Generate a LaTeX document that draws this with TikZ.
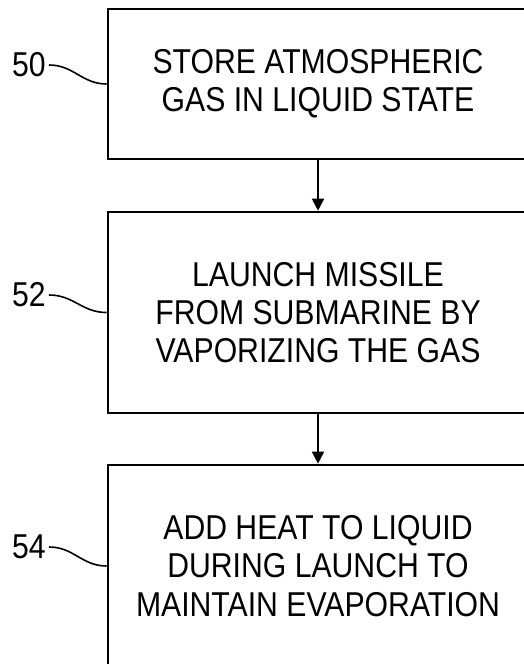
\documentclass[tikz,border=0pt]{standalone}
\usepackage{fontspec}
\setmainfont{Liberation Sans}[FakeStretch=0.875]
\usetikzlibrary{arrows.meta}

\tikzset{
  stepbox/.style={draw, line width=2.6pt, minimum width=420pt, align=center,
    inner sep=0pt, font=\fontsize{34.5}{38.3}\selectfont},
  refnum/.style={inner sep=0pt, font=\fontsize{34.5}{38.3}\selectfont},
  flow/.style={-{Triangle[width=12pt,length=12pt]}, line width=1.8pt},
  lead/.style={line width=1.6pt}
}

\begin{document}
\begin{tikzpicture}[x=1pt, y=-1pt]
            \useasboundingbox (0,0) rectangle (524,664);
            \node [stepbox, minimum height=150pt] (s1) at (318,84) {STORE ATMOSPHERIC\\GAS IN LIQUID STATE};
            \node [stepbox, minimum height=201pt] (s2) at (318,312.5) {LAUNCH MISSILE\\FROM SUBMARINE BY\\VAPORIZING THE GAS};
            \node [stepbox, minimum height=202pt] (s3) at (318,566) {ADD HEAT TO LIQUID\\DURING LAUNCH TO\\MAINTAIN EVAPORATION};
            \node [refnum] (r50) at (29,65) {50};
            \node [refnum] (r52) at (29,295) {52};
            \node [refnum] (r54) at (29,547) {54};
            \draw[flow] (s1.south) -- (s2.north);
            \draw[flow] (s2.south) -- (s3.north);
            \draw[lead] ([xshift=3pt]r50.east) .. controls +(25,0) and +(-25,0) .. (s1.west);
            \draw[lead] ([xshift=3pt]r52.east) .. controls +(25,0) and +(-25,0) .. (s2.west);
            \draw[lead] ([xshift=3pt]r54.east) .. controls +(25,0) and +(-25,0) .. (s3.west);
        \end{tikzpicture}
\end{document}
